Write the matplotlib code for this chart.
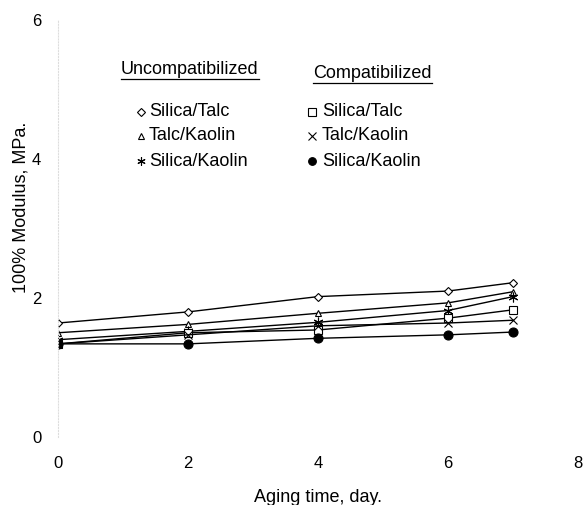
import matplotlib
matplotlib.use('Agg')
from matplotlib import pyplot as plt
from matplotlib.lines import Line2D

plt.rcParams['font.family'] = ['Liberation Sans', 'DejaVu Sans']

# aging time (day)
days = [0, 2, 4, 6, 7]

# uncompatibilized
unc_silica_talc = [1.64, 1.80, 2.02, 2.10, 2.22]
unc_talc_kaolin = [1.50, 1.62, 1.78, 1.93, 2.09]
unc_silica_kaolin = [1.40, 1.52, 1.65, 1.82, 2.02]

# compatibilized
com_silica_talc = [1.34, 1.50, 1.54, 1.71, 1.83]
com_talc_kaolin = [1.34, 1.47, 1.60, 1.64, 1.68]
com_silica_kaolin = [1.34, 1.34, 1.42, 1.47, 1.51]

names = ['Silica/Talc', 'Talc/Kaolin', 'Silica/Kaolin']

fig = plt.figure(figsize=(5.85, 5.05), dpi=100)
ax = fig.add_axes([58 / 585, 68 / 505, 520 / 585, 417 / 505])

asterisk = (6, 2, 0)
series = [
    (unc_silica_talc, dict(marker='D', ms=4.5, mfc='white')),
    (unc_talc_kaolin, dict(marker='^', ms=5, mfc='white')),
    (unc_silica_kaolin, dict(marker=asterisk, ms=7)),
    (com_silica_talc, dict(marker='s', ms=6, mfc='white')),
    (com_talc_kaolin, dict(marker='x', ms=6)),
    (com_silica_kaolin, dict(marker='o', ms=6.5)),
]
for vals, st in series:
    ax.plot(days, vals, color='black', lw=1.0, mec='black', mew=0.8, **st)

ax.set_xlim(0, 8)
ax.set_ylim(0, 6)
ax.set_xticks([0, 2, 4, 6, 8])
ax.set_yticks([0, 2, 4, 6])
ax.tick_params(length=0, labelsize=12, pad=14)
ax.tick_params(axis='y', pad=12)
for s in ['top', 'right', 'bottom']:
    ax.spines[s].set_visible(False)
ax.spines['left'].set_color('#dddddd')
ax.spines['left'].set_linestyle(':')
ax.spines['left'].set_linewidth(0.8)

ax.set_xlabel('Aging time, day.', fontsize=13)
ax.xaxis.set_label_coords(0.5, -0.125)
ax.set_ylabel('100% Modulus, MPa.', fontsize=13)
ax.yaxis.set_label_coords(-0.055, 0.55)

# legend drawn by hand, two columns with underlined headers
def px(x, y):
    return x / 585, 1 - y / 505

hx, hy = px(121, 70)
fig.text(hx, hy, 'Uncompatibilized', fontsize=13, va='center', ha='left')
fig.add_artist(Line2D([121 / 585, 259 / 585], [1 - 79 / 505] * 2, color='black', lw=0.9))
hx, hy = px(313, 74)
fig.text(hx, hy, 'Compatibilized', fontsize=13, va='center', ha='left')
fig.add_artist(Line2D([313 / 585, 432 / 585], [1 - 83 / 505] * 2, color='black', lw=0.9))

rows_y = [112, 136, 161]
for col, (mx, tx) in enumerate([(141, 149), (312, 322)]):
    for i, name in enumerate(names):
        _, st = series[col * 3 + i]
        st = dict(st)
        st['ms'] = st['ms'] * 0.85
        xm, ym = px(mx, rows_y[i])
        fig.add_artist(Line2D([xm], [ym], color='black', mec='black', mew=0.8,
                              linestyle='none', **st))
        xt, yt = px(tx, rows_y[i])
        fig.text(xt, yt, name, fontsize=13, va='center', ha='left')

fig.savefig('out.png', dpi=100)
